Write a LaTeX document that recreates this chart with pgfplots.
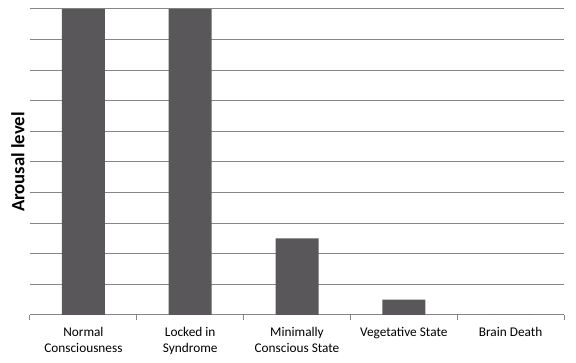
\documentclass[border=0pt]{standalone}
\usepackage{pgfplots}
\pgfplotsset{compat=1.18}
\usepackage{fontspec}
\setmainfont{Carlito}
\definecolor{barc}{RGB}{90,87,90}
\definecolor{gridc}{RGB}{134,134,134}
\begin{document}
\begin{tikzpicture}[x=1pt,y=1pt]
\path[use as bounding box] (0,0) rectangle (576,363);
\begin{axis}[
  at={(30pt,48pt)}, anchor=south west,
  width=534pt, height=306pt, scale only axis,
  xmin=0, xmax=5, ymin=0, ymax=10,
  axis x line*=bottom, axis y line*=left,
  x axis line style={draw=gridc, line width=1pt, -},
  y axis line style={draw=none, -},
  ytick={0,1,...,10}, yticklabels={},
  ytick style={draw=none},
  ymajorgrids, grid style={draw=gridc, line width=1pt},
  xtick={0.5,1.5,2.5,3.5,4.5},
  xticklabels={{Normal\\Consciousness},{Locked in\\Syndrome},{Minimally\\Conscious State},{Vegetative State},{Brain Death}},
  xtick style={draw=none},
  xticklabel style={align=center, anchor=north, font=\fontsize{13.3}{16.3}\selectfont, yshift=-4.5pt},
  extra x ticks={0,1,2,3,4,5}, extra x tick labels={},
  extra x tick style={xtick style={draw=gridc, line width=1pt}, tick align=outside, major tick length=5pt, grid=none},
  ylabel={\bfseries Arousal level},
  every axis y label/.style={at={(axis description cs:0,0.5)}, rotate=90, anchor=center, yshift=12pt, font=\fontsize{18.7}{20}\selectfont},
  ybar, bar width=43pt, bar shift=0pt,
  clip=false,
]
\addplot[fill=barc, draw=none] coordinates {(0.5,10) (1.5,10) (2.5,2.5) (3.5,0.5) (4.5,0)};
\end{axis}
\end{tikzpicture}
\end{document}
